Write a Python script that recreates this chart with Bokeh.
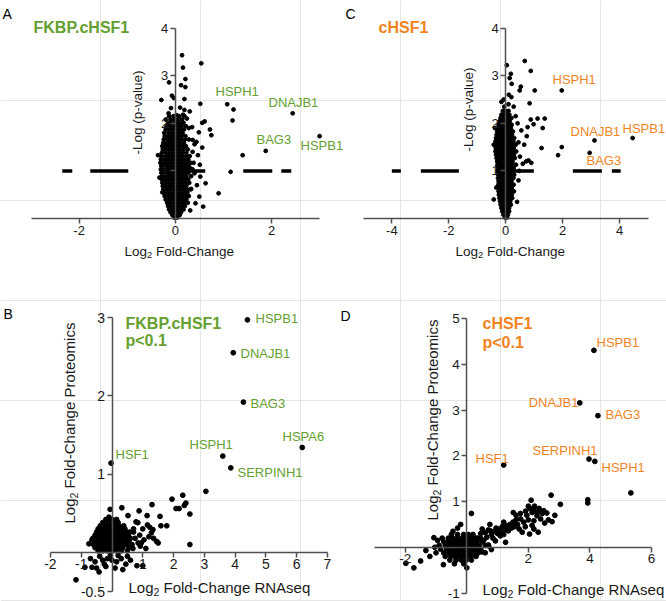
from math import pi
from bokeh.plotting import figure
from bokeh.models import Range1d, Label, FixedTicker, LinearAxis
from bokeh.embed import file_html
from bokeh.resources import INLINE

FONT = "Liberation Sans"
GREEN = "#65a030"
ORANGE = "#f2841f"
AXIS_COLOR = "#505050"
INK = "#1a1a1a"

# ====================== DATA ======================
log_p_threshold = 1.0  # -log10(0.1)

# ---- Panel A : FKBP.cHSF1 volcano (log2 FC, -log p) ----
a_genes = ["HSPH1", "DNAJB1", "BAG3", "HSPB1"]
a_gene_fc = [1.08, 2.44, 1.88, 3.00]
a_gene_logp = [2.40, 2.21, 1.42, 1.73]
a_sparse = [(1.21, 2.29), (1.19, 2.06), (1.40, 1.33), (1.15, 0.98), (0.90, 0.53),
            (0.14, 3.43), (0.54, 3.26), (0.16, 3.17), (0.21, 2.93), (-0.13, 2.86),
            (0.12, 2.80), (0.21, 2.76), (-0.07, 2.58), (-0.29, 2.49), (-0.03, 2.53),
            (0.19, 2.51), (0.52, 2.41), (-0.09, 2.32), (0.10, 2.33), (0.19, 2.28),
            (-0.14, 2.21), (0.03, 2.17), (0.16, 2.18), (0.24, 2.10), (0.35, 1.92),
            (0.56, 2.01), (0.61, 2.04), (0.72, 1.87), (0.75, 1.75), (0.49, 1.81),
            (0.28, 1.90), (0.44, 1.61), (0.56, 1.49), (0.40, 1.56), (-0.36, 1.33),
            (0.47, 1.33), (0.38, 1.17), (0.51, 1.13), (0.63, 0.74), (0.52, 0.88),
            (0.50, 0.46), (0.58, 0.25), (0.42, 0.32), (0.31, 0.17), (-0.27, 0.55),
            (-0.33, 0.86), (0.36, 1.40), (0.33, 0.62), (0.40, 0.95), (0.45, 0.70),
            (0.30, 2.25), (0.36, 1.65), (0.32, 1.05)]
a_cloud_rows = [
    (0.02, [-0.02, 0.04]),
    (0.07, [-0.06, 0.02, 0.09]),
    (0.13, [-0.10, -0.03, 0.05, 0.12]),
    (0.19, [-0.13, -0.05, 0.03, 0.10, 0.17]),
    (0.26, [-0.15, -0.08, 0.00, 0.07, 0.14, 0.20]),
    (0.33, [-0.17, -0.10, -0.02, 0.05, 0.12, 0.19, 0.26]),
    (0.40, [-0.20, -0.12, -0.05, 0.02, 0.09, 0.16, 0.23]),
    (0.47, [-0.22, -0.14, -0.07, 0.00, 0.07, 0.14, 0.21, 0.28]),
    (0.54, [-0.24, -0.16, -0.09, -0.02, 0.05, 0.12, 0.19, 0.25]),
    (0.61, [-0.25, -0.18, -0.11, -0.03, 0.04, 0.11, 0.18, 0.24, 0.31]),
    (0.68, [-0.26, -0.19, -0.12, -0.05, 0.02, 0.09, 0.16, 0.23]),
    (0.75, [-0.27, -0.20, -0.13, -0.06, 0.01, 0.08, 0.15, 0.22, 0.29]),
    (0.82, [-0.28, -0.21, -0.14, -0.07, 0.00, 0.07, 0.14, 0.21, 0.27]),
    (0.89, [-0.27, -0.20, -0.13, -0.06, 0.02, 0.09, 0.16, 0.23, 0.33]),
    (0.96, [-0.29, -0.22, -0.15, -0.08, -0.01, 0.06, 0.13, 0.20, 0.27]),
    (1.03, [-0.30, -0.23, -0.16, -0.09, -0.02, 0.05, 0.12, 0.19, 0.26, 0.36]),
    (1.10, [-0.29, -0.22, -0.15, -0.08, 0.00, 0.07, 0.14, 0.21, 0.28]),
    (1.17, [-0.31, -0.24, -0.17, -0.10, -0.03, 0.04, 0.11, 0.18, 0.25, 0.32]),
    (1.24, [-0.30, -0.22, -0.15, -0.08, -0.01, 0.06, 0.13, 0.20, 0.27]),
    (1.31, [-0.29, -0.21, -0.14, -0.07, 0.00, 0.07, 0.14, 0.22, 0.30]),
    (1.38, [-0.28, -0.20, -0.13, -0.06, 0.01, 0.08, 0.15, 0.23]),
    (1.45, [-0.26, -0.19, -0.12, -0.05, 0.02, 0.09, 0.17, 0.26]),
    (1.52, [-0.27, -0.20, -0.13, -0.06, 0.01, 0.08, 0.15, 0.22]),
    (1.59, [-0.25, -0.18, -0.11, -0.04, 0.03, 0.10, 0.18]),
    (1.66, [-0.24, -0.16, -0.09, -0.02, 0.05, 0.12, 0.20, 0.28]),
    (1.73, [-0.22, -0.15, -0.08, -0.01, 0.06, 0.13, 0.21]),
    (1.80, [-0.23, -0.14, -0.06, 0.01, 0.08, 0.15]),
    (1.87, [-0.20, -0.12, -0.05, 0.03, 0.10, 0.18]),
    (1.94, [-0.18, -0.10, -0.02, 0.06, 0.13, 0.22]),
    (2.01, [-0.15, -0.07, 0.01, 0.09, 0.17]),
    (2.08, [-0.20, -0.10, -0.02, 0.05, 0.14]),
    (2.15, [-0.13, -0.04, 0.08, 0.19]),
]
a_x_ticks = [-2, 0, 2]
a_x_labels = ["-2", "0", "2"]
a_y_ticks = [1, 2, 3, 4]
a_y_labels = ["1", "2", "3", "4"]
a_threshold_fc = [-2.35, 2.42]

# ---- Panel C : cHSF1 volcano ----
c_genes = ["HSPH1", "DNAJB1", "HSPB1", "BAG3"]
c_gene_fc = [1.97, 3.12, 4.46, 2.95]
c_gene_logp = [2.69, 1.64, 1.69, 1.38]
c_sparse = [(0.67, 3.31), (0.88, 3.10), (0.04, 3.22), (0.18, 3.04), (0.21, 2.83),
            (0.14, 2.95), (0.53, 2.77), (0.49, 2.69), (1.02, 2.69), (0.84, 2.42),
            (0.11, 2.60), (-0.07, 2.50), (-0.15, 2.45), (0.20, 2.55), (0.28, 2.35),
            (-0.05, 2.35), (0.10, 2.40), (0.88, 2.08), (1.12, 2.10), (1.37, 2.10),
            (0.98, 1.98), (1.30, 1.90), (0.77, 1.92), (0.74, 1.73), (1.26, 1.48),
            (1.97, 1.50), (1.84, 1.33), (-0.42, 1.55), (-0.33, 0.65), (0.60, 1.15),
            (0.72, 1.20), (0.80, 1.22), (0.90, 1.17), (0.45, 1.60), (0.55, 1.85),
            (0.42, 2.00), (0.65, 1.55), (0.50, 1.30), (-0.42, 0.40), (0.45, 0.80),
            (0.40, 0.35), (0.48, 1.00), (-0.38, 1.90), (0.35, 2.15)]
c_cloud_rows = [
    (0.02, [-0.03, 0.05]),
    (0.08, [-0.08, 0.00, 0.08]),
    (0.15, [-0.12, -0.03, 0.06, 0.12]),
    (0.22, [-0.15, -0.06, 0.03, 0.12]),
    (0.29, [-0.18, -0.09, 0.00, 0.09, 0.18]),
    (0.36, [-0.20, -0.11, -0.02, 0.07, 0.16]),
    (0.43, [-0.22, -0.13, -0.04, 0.05, 0.14, 0.23]),
    (0.50, [-0.24, -0.15, -0.06, 0.03, 0.12, 0.21]),
    (0.57, [-0.25, -0.16, -0.07, 0.02, 0.11, 0.20, 0.29]),
    (0.64, [-0.24, -0.15, -0.06, 0.03, 0.12, 0.21]),
    (0.71, [-0.26, -0.17, -0.08, 0.01, 0.10, 0.19, 0.28]),
    (0.78, [-0.25, -0.16, -0.07, 0.02, 0.11, 0.20]),
    (0.85, [-0.27, -0.18, -0.09, 0.00, 0.09, 0.18, 0.27]),
    (0.92, [-0.26, -0.17, -0.08, 0.01, 0.10, 0.19, 0.30]),
    (0.99, [-0.28, -0.19, -0.10, -0.01, 0.08, 0.17, 0.26]),
    (1.06, [-0.27, -0.18, -0.09, 0.00, 0.09, 0.18, 0.28]),
    (1.13, [-0.29, -0.20, -0.11, -0.02, 0.07, 0.16, 0.25, 0.36]),
    (1.20, [-0.30, -0.21, -0.12, -0.03, 0.06, 0.15, 0.24]),
    (1.27, [-0.32, -0.23, -0.14, -0.05, 0.04, 0.13, 0.22, 0.32]),
    (1.34, [-0.34, -0.25, -0.16, -0.07, 0.02, 0.11, 0.20, 0.29]),
    (1.41, [-0.36, -0.27, -0.18, -0.09, 0.00, 0.09, 0.18, 0.27, 0.37]),
    (1.48, [-0.35, -0.26, -0.17, -0.08, 0.01, 0.10, 0.19, 0.28]),
    (1.55, [-0.37, -0.28, -0.19, -0.10, -0.01, 0.08, 0.17, 0.26, 0.35]),
    (1.62, [-0.36, -0.27, -0.18, -0.09, 0.00, 0.09, 0.18, 0.27]),
    (1.69, [-0.34, -0.25, -0.16, -0.07, 0.02, 0.11, 0.20, 0.30]),
    (1.76, [-0.32, -0.23, -0.14, -0.05, 0.04, 0.13, 0.22]),
    (1.83, [-0.30, -0.21, -0.12, -0.03, 0.06, 0.15, 0.25]),
    (1.90, [-0.27, -0.18, -0.09, 0.00, 0.09, 0.18]),
    (1.97, [-0.25, -0.16, -0.07, 0.02, 0.11, 0.21]),
    (2.04, [-0.22, -0.13, -0.04, 0.05, 0.14]),
    (2.11, [-0.18, -0.08, 0.01, 0.10, 0.20]),
    (2.18, [-0.15, -0.05, 0.04, 0.13]),
    (2.26, [-0.10, 0.00, 0.10]),
]
c_x_ticks = [-4, -2, 0, 2, 4]
c_x_labels = ["-4", "-2", "0", "2", "4"]
c_y_ticks = [1, 2, 3, 4]
c_y_labels = ["1", "2", "3", "4"]
c_threshold_fc = [-4.0, 4.04]

# ---- Panel B : FKBP.cHSF1 RNAseq vs proteomics ----
b_genes = ["HSPB1", "DNAJB1", "BAG3", "HSPA6", "HSPH1", "SERPINH1", "HSF1"]
b_gene_rna = [4.40, 3.94, 4.27, 6.18, 3.60, 3.86, -0.03]
b_gene_prot = [2.97, 2.55, 1.92, 1.34, 1.23, 1.08, 1.14]
b_sparse = [(3.05, 0.78), (2.30, 0.73), (1.95, 0.68), (2.40, 0.63), (2.35, 0.60),
            (2.08, 0.56), (2.18, 0.56), (2.53, 0.49), (1.30, 0.61), (1.14, 0.47),
            (1.56, 0.46), (1.78, 0.34), (1.59, 0.34), (1.23, 0.32), (1.28, 0.25),
            (1.20, 0.20), (1.35, 0.18), (1.50, 0.12), (1.45, 0.14), (1.04, 0.16),
            (2.53, 0.10), (0.88, 0.53), (0.78, 0.39), (1.33, 0.29), (1.00, 0.30),
            (0.92, 0.08), (1.10, 0.05), (0.85, 0.12), (1.15, 0.35), (0.68, 0.05),
            (-0.65, 0.16), (-0.75, 0.11), (-0.29, 0.36), (0.16, 0.38), (-0.06, 0.55),
            (0.32, 0.57), (0.52, 0.47), (0.84, 0.38), (0.58, 0.26), (0.70, 0.30),
            (0.90, 0.22), (0.95, 0.12), (-0.10, 0.45),
            (-1.17, -0.35), (-0.88, -0.19), (-0.65, -0.19), (-0.42, -0.25), (-0.55, -0.12),
            (-0.30, -0.10), (-0.15, -0.08), (0.00, -0.10), (0.15, -0.12), (0.30, -0.08),
            (0.45, -0.15), (0.60, -0.10), (0.81, -0.17), (1.00, -0.17), (-0.40, -0.05),
            (-0.20, -0.18), (0.10, -0.20), (0.35, -0.22), (-0.70, -0.08), (-0.05, -0.04),
            (0.20, -0.04), (-0.50, -0.20), (0.50, -0.05), (-0.25, -0.15)]
b_cloud_rows = [
    (0.02, [-0.45, -0.30, -0.15, 0.00, 0.15, 0.30, 0.50]),
    (0.06, [-0.55, -0.40, -0.25, -0.10, 0.05, 0.20, 0.35, 0.55]),
    (0.10, [-0.60, -0.47, -0.33, -0.20, -0.07, 0.07, 0.20, 0.33, 0.47, 0.65]),
    (0.14, [-0.52, -0.40, -0.27, -0.13, 0.00, 0.13, 0.27, 0.40, 0.55]),
    (0.18, [-0.62, -0.47, -0.33, -0.20, -0.07, 0.07, 0.20, 0.33, 0.47, 0.60, 0.75]),
    (0.22, [-0.55, -0.40, -0.27, -0.13, 0.00, 0.13, 0.27, 0.40, 0.53]),
    (0.26, [-0.50, -0.35, -0.20, -0.07, 0.07, 0.20, 0.33, 0.47, 0.70]),
    (0.30, [-0.45, -0.30, -0.15, 0.00, 0.15, 0.30, 0.42]),
    (0.34, [-0.38, -0.22, -0.08, 0.08, 0.22, 0.38]),
    (0.38, [-0.30, -0.12, 0.05, 0.20]),
    (0.42, [-0.20, 0.00, 0.15]),
]
b_x_ticks = [-2, -1, 1, 2, 3, 4, 5, 6, 7]
b_x_labels = ["-2", "-1", "1", "2", "3", "4", "5", "6", "7"]
b_y_ticks = [-0.5, 1, 2, 3]
b_y_labels = ["-0.5", "1", "2", "3"]

# ---- Panel D : cHSF1 RNAseq vs proteomics ----
d_genes = ["HSPB1", "DNAJB1", "BAG3", "SERPINH1", "HSPH1", "HSF1"]
d_gene_rna = [4.13, 3.67, 4.26, 3.97, 4.16, 1.20]
d_gene_prot = [4.31, 3.16, 2.88, 1.93, 1.88, 1.80]
d_sparse = [(5.33, 1.19), (3.93, 1.04), (3.93, 0.97), (2.74, 1.14), (3.04, 0.94),
            (2.09, 1.03), (1.51, 0.76), (1.91, 0.79), (1.74, 0.74), (2.12, 0.76),
            (2.28, 0.69), (2.45, 0.74), (2.18, 0.58), (2.53, 0.53), (2.77, 0.56),
            (2.86, 0.70), (2.32, 0.33), (2.04, 0.29), (2.12, 0.48), (2.18, 0.40),
            (1.80, 0.33), (0.50, 0.40), (0.77, 0.36), (1.09, 0.25), (1.26, 0.11),
            (0.93, 0.14), (0.71, 0.03), (0.15, 0.74), (2.36, 0.79), (2.17, 0.83),
            (0.35, 0.20), (0.45, 0.30), (0.55, 0.15), (0.60, 0.32), (0.65, 0.22),
            (0.70, 0.38), (0.80, 0.28), (0.85, 0.20), (0.90, 0.35), (0.95, 0.42),
            (1.00, 0.30), (1.05, 0.40), (1.10, 0.33), (1.15, 0.45), (1.20, 0.28),
            (1.25, 0.38), (1.30, 0.47), (1.35, 0.36), (1.40, 0.50), (1.45, 0.42),
            (1.50, 0.55), (1.55, 0.45), (1.60, 0.60), (1.65, 0.50), (1.70, 0.40),
            (1.75, 0.62), (1.85, 0.55), (1.90, 0.45), (1.95, 0.70), (2.00, 0.60),
            (2.05, 0.85), (2.20, 0.90), (2.25, 0.78), (2.35, 0.85), (2.40, 0.62),
            (2.50, 0.80), (2.60, 0.75), (2.65, 0.60), (2.00, 0.90), (1.60, 0.70),
            (1.20, 0.55), (0.75, 0.50),
            (-1.72, -0.45), (-1.98, -0.35), (-1.50, -0.30), (-1.33, -0.07), (-1.07, 0.21),
            (-0.95, 0.15), (-0.76, -0.38), (-0.45, 0.35), (-1.04, 0.00), (-1.20, -0.20),
            (-0.30, 0.42), (0.00, -0.45), (0.50, -0.10), (0.70, 0.05), (0.80, -0.05),
            (-0.20, 0.50)]
d_cloud_rows = [
    (0.28, [-0.50, -0.30, -0.10, 0.05, 0.20]),
    (0.20, [-0.80, -0.60, -0.45, -0.30, -0.15, 0.00, 0.15, 0.30, 0.45]),
    (0.12, [-0.75, -0.60, -0.47, -0.33, -0.20, -0.07, 0.07, 0.20, 0.33, 0.50]),
    (0.04, [-0.90, -0.70, -0.55, -0.42, -0.28, -0.15, -0.02, 0.12, 0.25, 0.40, 0.60]),
    (-0.04, [-0.85, -0.65, -0.50, -0.37, -0.23, -0.10, 0.03, 0.17, 0.30, 0.45]),
    (-0.12, [-1.00, -0.75, -0.58, -0.45, -0.32, -0.18, -0.05, 0.08, 0.22, 0.38, 0.60]),
    (-0.20, [-0.70, -0.52, -0.38, -0.25, -0.12, 0.00, 0.14, 0.30]),
    (-0.28, [-0.55, -0.35, -0.18, -0.02, 0.15]),
    (-0.36, [-0.40, -0.10]),
]
d_x_ticks = [-2, 2, 4, 6]
d_x_labels = ["-2", "2", "4", "6"]
d_y_ticks = [-1, 1, 2, 3, 4, 5]
d_y_labels = ["-1", "1", "2", "3", "4", "5"]


def collect(rows, sparse, gx, gy):
    xs = [x for _, r in rows for x in r] + [s[0] for s in sparse] + list(gx)
    ys = [y for y, r in rows for _ in r] + [s[1] for s in sparse] + list(gy)
    return xs, ys


# ====================== LAYOUT ======================
W, H = 666, 601   # canvas covers the whole window (page has no margin)
PANELS = {
    # pixel of the data origin, pixels per unit
    "A": dict(x0=174.8, sx=48.1, y0=218.0, sy=47.6),
    "C": dict(x0=505.2, sx=28.46, y0=218.0, sy=47.6),
    "B": dict(x0=111.5, sx=30.78, y0=551.9, sy=78.29),
    "D": dict(x0=466.3, sx=30.78, y0=546.8, sy=45.7),
}

p = figure(width=W, height=H,
           x_range=Range1d(0, W), y_range=Range1d(H, 0),
           output_backend="svg", toolbar_location=None,
           x_axis_location=None, y_axis_location=None,
           min_border=0, min_border_left=0, min_border_right=0,
           min_border_top=0, min_border_bottom=0)
p.outline_line_color = None
p.background_fill_color = "white"
p.border_fill_color = "white"

xr, yr = {}, {}
for name, c in PANELS.items():
    xr[name] = Range1d((0 - c["x0"]) / c["sx"], (W - c["x0"]) / c["sx"])
    yr[name] = Range1d((c["y0"] - H) / c["sy"], (c["y0"] - 0) / c["sy"])
p.extra_x_ranges = xr
p.extra_y_ranges = yr


def add_axes(name, xb, yb, xt, xl, yt, yl, fs):
    for side, ticks, labels, bounds in (("below", xt, xl, xb), ("left", yt, yl, yb)):
        ax = LinearAxis(x_range_name=name, y_range_name=name, fixed_location=0,
                        bounds=bounds,
                        ticker=FixedTicker(ticks=ticks, minor_ticks=[]),
                        major_label_overrides={t: l for t, l in zip(ticks, labels)})
        ax.axis_line_color = AXIS_COLOR
        ax.axis_line_width = 1.5
        ax.major_tick_line_color = AXIS_COLOR
        ax.major_tick_line_width = 1.5
        ax.major_tick_out = 5
        ax.major_tick_in = 0
        ax.minor_tick_line_color = None
        ax.major_label_text_font = FONT
        ax.major_label_text_font_size = f"{fs}px"
        ax.major_label_text_color = INK
        ax.major_label_standoff = 2
        p.add_layout(ax, side)


def text(px, py, txt, size=13, color=INK, bold=False, align="left",
         baseline="middle", angle=0.0, xo=0.0, yo=0.0):
    p.add_layout(Label(x=px, y=py, text=txt, text_font=FONT,
                       text_font_size=f"{size}px", text_color=color,
                       text_font_style="bold" if bold else "normal",
                       text_align=align, text_baseline=baseline, angle=angle,
                       x_offset=xo, y_offset=yo))


def log2_label(px, py_base, rest, size, vertical=False):
    w_log = 1.668 * size
    sub = round(size * 0.7, 1)
    w_sub = 0.556 * sub
    w_gap = 0.278 * size
    if not vertical:
        text(px, py_base, "Log", size, INK, baseline="alphabetic")
        text(px, py_base, "2", sub, INK, baseline="alphabetic", xo=w_log, yo=-size * 0.28)
        text(px, py_base, rest, size, INK, baseline="alphabetic", xo=w_log + w_sub + w_gap)
    else:
        text(px, py_base, "Log", size, INK, baseline="alphabetic", angle=pi / 2)
        text(px, py_base, "2", sub, INK, baseline="alphabetic", angle=pi / 2,
             yo=w_log, xo=size * 0.28)
        text(px, py_base, rest, size, INK, baseline="alphabetic", angle=pi / 2,
             yo=w_log + w_sub + w_gap)


# ---------- Panel A ----------
ax_, ay_ = collect(a_cloud_rows, a_sparse, a_gene_fc, a_gene_logp)
p.scatter(ax_, ay_, size=3.8, color="black", x_range_name="A", y_range_name="A")
p.line(a_threshold_fc, [log_p_threshold] * 2, x_range_name="A", y_range_name="A",
       line_width=3.5, line_color="black", line_cap="butt",
       line_dash="10 18 38 39 38 38 29 9 10 60")
add_axes("A", (-3, 3), (0, 4), a_x_ticks, a_x_labels, a_y_ticks, a_y_labels, 13)

# ---------- Panel C ----------
cx_, cy_ = collect(c_cloud_rows, c_sparse, c_gene_fc, c_gene_logp)
p.scatter(cx_, cy_, size=3.8, color="black", x_range_name="C", y_range_name="C")
p.line(c_threshold_fc, [log_p_threshold] * 2, x_range_name="C", y_range_name="C",
       line_width=3.5, line_color="black", line_cap="butt",
       line_dash="9 20 38 37 38 39 29 10 9 60")
add_axes("C", (-5, 5), (0, 4), c_x_ticks, c_x_labels, c_y_ticks, c_y_labels, 13)

# ---------- Panel B ----------
bx_, by_ = collect(b_cloud_rows, b_sparse, b_gene_rna, b_gene_prot)
p.scatter(bx_, by_, size=4.8, color="black", x_range_name="B", y_range_name="B")
add_axes("B", (-2, 7), (-0.5, 3), b_x_ticks, b_x_labels, b_y_ticks, b_y_labels, 14)

# ---------- Panel D ----------
dx_, dy_ = collect(d_cloud_rows, d_sparse, d_gene_rna, d_gene_prot)
p.scatter(dx_, dy_, size=4.8, color="black", x_range_name="D", y_range_name="D")
add_axes("D", (-3, 6), (-1, 5), d_x_ticks, d_x_labels, d_y_ticks, d_y_labels, 13.5)

# ====================== TEXT ======================
# panel letters
text(2, 13, "A", 14, "black", baseline="alphabetic")
text(345, 13, "C", 14, "black", baseline="alphabetic")
text(3, 313, "B", 14, "black", baseline="alphabetic")
text(340, 315, "D", 14, "black", baseline="alphabetic")

# titles
text(33, 27, "FKBP.cHSF1", 16, GREEN, bold=True)
text(378, 27, "cHSF1", 16, ORANGE, bold=True)
text(125, 323, "FKBP.cHSF1", 16, GREEN, bold=True)
text(125, 340, "p<0.1", 16, GREEN, bold=True)
text(482, 323, "cHSF1", 16, ORANGE, bold=True)
text(482, 342, "p<0.1", 16, ORANGE, bold=True)

# gene labels
for g, (px, py) in zip(a_genes, [(215, 91), (268, 102), (256, 139), (300, 145)]):
    text(px, py, g, 13, GREEN)
for g, (px, py) in zip(c_genes, [(552, 79), (570, 131), (622, 128), (586, 160)]):
    text(px, py, g, 13, ORANGE)
for g, (px, py) in zip(b_genes, [(255, 318), (240, 353), (250, 403), (282, 436),
                                 (189, 444), (237, 472), (115, 454)]):
    text(px, py, g, 13, GREEN)
for g, (px, py, al) in zip(d_genes, [(596, 342, "left"), (578, 402, "right"),
                                     (605, 414, "left"), (532, 450, "left"),
                                     (601, 467, "left"), (475, 458, "left")]):
    text(px, py, g, 13, ORANGE, align=al)

# axis titles
log2_label(124, 251, "Fold-Change", 13.5)
log2_label(455, 251, "Fold-Change", 13.5)
text(137, 112, "-Log (p-value)", 13.5, INK, align="center", angle=pi / 2)
text(468, 109, "-Log (p-value)", 13.5, INK, align="center", angle=pi / 2)
log2_label(128, 587, "Fold-Change RNAseq", 15)
log2_label(69, 523, "Fold-Change Proteomics", 15, vertical=True)
log2_label(482, 589, "Fold-Change RNAseq", 15)
log2_label(432, 520, "Fold-Change Proteomics", 15, vertical=True)

open("out.html", "w").write(file_html(p, INLINE))
